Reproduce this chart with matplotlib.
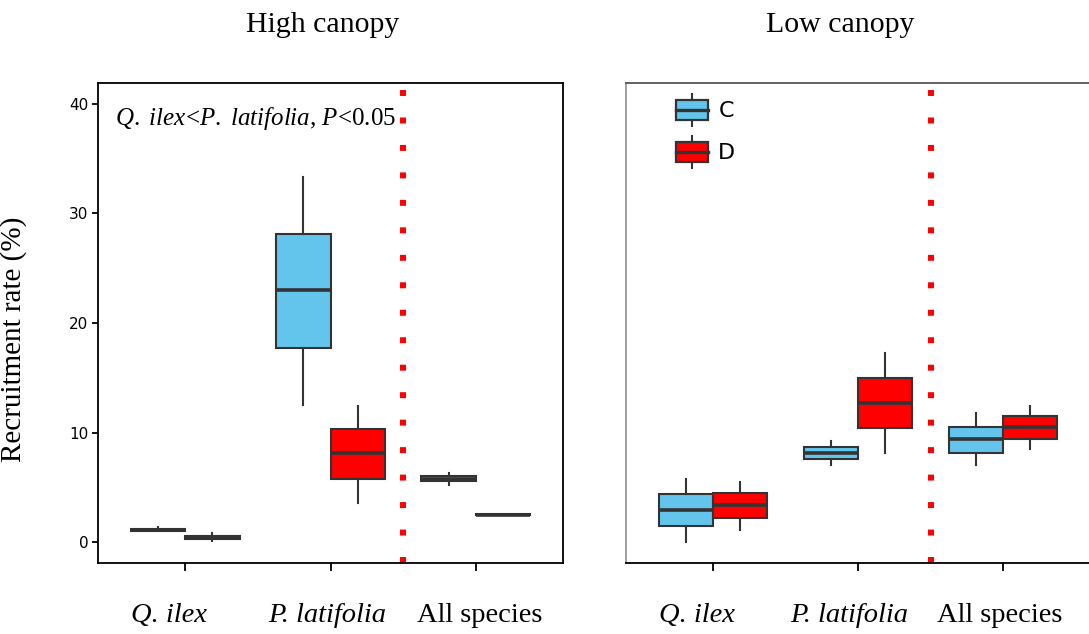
import matplotlib

matplotlib.use("Agg")
import matplotlib.pyplot as plt  # noqa: E402
from matplotlib.legend_handler import HandlerBase  # noqa: E402
from matplotlib.lines import Line2D  # noqa: E402
from matplotlib.patches import Patch, Rectangle  # noqa: E402
from matplotlib.transforms import blended_transform_factory  # noqa: E402

plt.rcParams["mathtext.fontset"] = "custom"
plt.rcParams["mathtext.rm"] = "Liberation Serif"
plt.rcParams["mathtext.it"] = "Liberation Serif:italic"

SERIF = "Liberation Serif"
SANS = "DejaVu Sans"

SPECIES = ["Q. ilex", "P. latifolia", "All species"]
SPECIES_ITALIC = [True, True, False]
PANELS = ["High canopy", "Low canopy"]
TREATMENTS = ["C", "D"]
COLORS = {"C": "#64C5EC", "D": "#FF0000"}

# (lower whisker, Q1, median, Q3, upper whisker) per species
HIGH_C = [(1.0, 1.05, 1.12, 1.22, 1.35), (12.5, 17.7, 23.0, 28.1, 33.3), (5.2, 5.55, 5.8, 6.0, 6.3)]
HIGH_D = [(0.1, 0.3, 0.42, 0.55, 0.8), (3.6, 5.8, 8.1, 10.3, 12.4), (2.45, 2.48, 2.5, 2.55, 2.6)]
LOW_C = [(0.0, 1.5, 2.9, 4.4, 5.8), (7.0, 7.55, 8.15, 8.7, 9.25), (7.0, 8.15, 9.4, 10.5, 11.75)]
LOW_D = [(1.15, 2.25, 3.4, 4.45, 5.5), (8.1, 10.4, 12.7, 15.0, 17.3), (8.5, 9.45, 10.5, 11.5, 12.45)]

PANEL_DATA = {"High canopy": {"C": HIGH_C, "D": HIGH_D}, "Low canopy": {"C": LOW_C, "D": LOW_D}}

EDGE = "#333333"
BOX_W = 0.375


class BoxKeyHandler(HandlerBase):
    """Legend key drawn as a tiny boxplot."""

    def create_artists(self, legend, orig_handle, xdescent, ydescent, width, height, fontsize, trans):
        x0, y0 = -xdescent, -ydescent
        cx = x0 + width / 2
        box = Rectangle((x0, y0 + height * 0.19), width, height * 0.62,
                        facecolor=orig_handle.get_facecolor(), edgecolor=EDGE, linewidth=1.6,
                        transform=trans)
        med = Line2D([x0, x0 + width], [y0 + height / 2] * 2, color=EDGE, linewidth=2.4, transform=trans)
        top = Line2D([cx, cx], [y0 + height * 0.81, y0 + height], color=EDGE, linewidth=1.5, transform=trans)
        bot = Line2D([cx, cx], [y0, y0 + height * 0.19], color=EDGE, linewidth=1.5, transform=trans)
        return [box, med, top, bot]


def draw_panel(ax, panel, label_x):
    for offset, trt in zip((-BOX_W / 2, BOX_W / 2), TREATMENTS):
        stats = []
        for lo, q1, med, q3, hi in PANEL_DATA[panel][trt]:
            stats.append({"whislo": lo, "q1": q1, "med": med, "q3": q3, "whishi": hi, "fliers": []})
        positions = [i + 1 + offset for i in range(len(SPECIES))]
        ax.bxp(stats, positions=positions, widths=BOX_W, patch_artist=True, showcaps=False,
               showfliers=False,
               boxprops={"facecolor": COLORS[trt], "edgecolor": EDGE, "linewidth": 1.5},
               medianprops={"color": EDGE, "linewidth": 2.6, "solid_capstyle": "butt"},
               whiskerprops={"color": EDGE, "linewidth": 1.5})
    ax.axvline(2.5, color="#FF0000", linewidth=4.3, linestyle=(0, (1, 3.6)), dash_capstyle="butt")
    ax.set_xlim(0.4, 3.6)
    ax.set_ylim(-1.9, 41.9)
    ax.set_xticks([1, 2, 3])
    ax.set_xticklabels([])
    ax.tick_params(axis="x", length=6, width=1.3)
    for sp in ax.spines.values():
        sp.set_linewidth(1.3)
    # species names sit well below the axis, nudged off the tick marks
    trans = blended_transform_factory(ax.transData, ax.transAxes)
    for x, name, ital in zip(label_x, SPECIES, SPECIES_ITALIC):
        ax.text(x, -0.123, name, transform=trans, family=SERIF, fontsize=20.5,
                fontstyle="italic" if ital else "normal", ha="center", va="baseline")


fig = plt.figure(figsize=(10.89, 6.34), dpi=100)
ax_hi = fig.add_axes([98 / 1089, 71 / 634, 465 / 1089, 480 / 634])
ax_lo = fig.add_axes([626 / 1089, 71 / 634, 464 / 1089, 480 / 634])

draw_panel(ax_hi, "High canopy", [0.89, 1.98, 3.03])
draw_panel(ax_lo, "Low canopy", [0.89, 1.94, 2.98])

ax_hi.set_yticks([0, 10, 20, 30, 40])
ax_hi.tick_params(axis="y", length=4, width=1.3, pad=3, labelsize=11)
for lab in ax_hi.get_yticklabels():
    lab.set_family(SANS)
ax_hi.set_ylabel("Recruitment rate (%)", family=SERIF, fontsize=21)
ax_hi.yaxis.set_label_coords(-0.152, 0.465)

ax_lo.set_yticks([])
ax_lo.spines["left"].set_color("#999999")
ax_lo.spines["top"].set_color("#555555")

ax_hi.text(0.52, 38.7, r"$\mathit{Q.\ ilex}$<$\mathit{P.\ latifolia}$, $\mathit{P}$<0.05",
           family=SERIF, fontsize=18, ha="left", va="center")

handles = [Patch(facecolor=COLORS[t], edgecolor=EDGE) for t in TREATMENTS]
ax_lo.legend(handles, TREATMENTS, handler_map={Patch: BoxKeyHandler()}, loc="upper left",
             bbox_to_anchor=(0.108, 0.978), frameon=False, borderpad=0, borderaxespad=0,
             handlelength=1.45, handleheight=1.85, handletextpad=0.45, labelspacing=0.45,
             prop={"family": SANS, "size": 16})

fig.text(323 / 1089, 1 - 25 / 634, PANELS[0], family=SERIF, fontsize=21.5, ha="center", va="center")
fig.text(840 / 1089, 1 - 25 / 634, PANELS[1], family=SERIF, fontsize=21.5, ha="center", va="center")

fig.savefig("out.png", dpi=100)
